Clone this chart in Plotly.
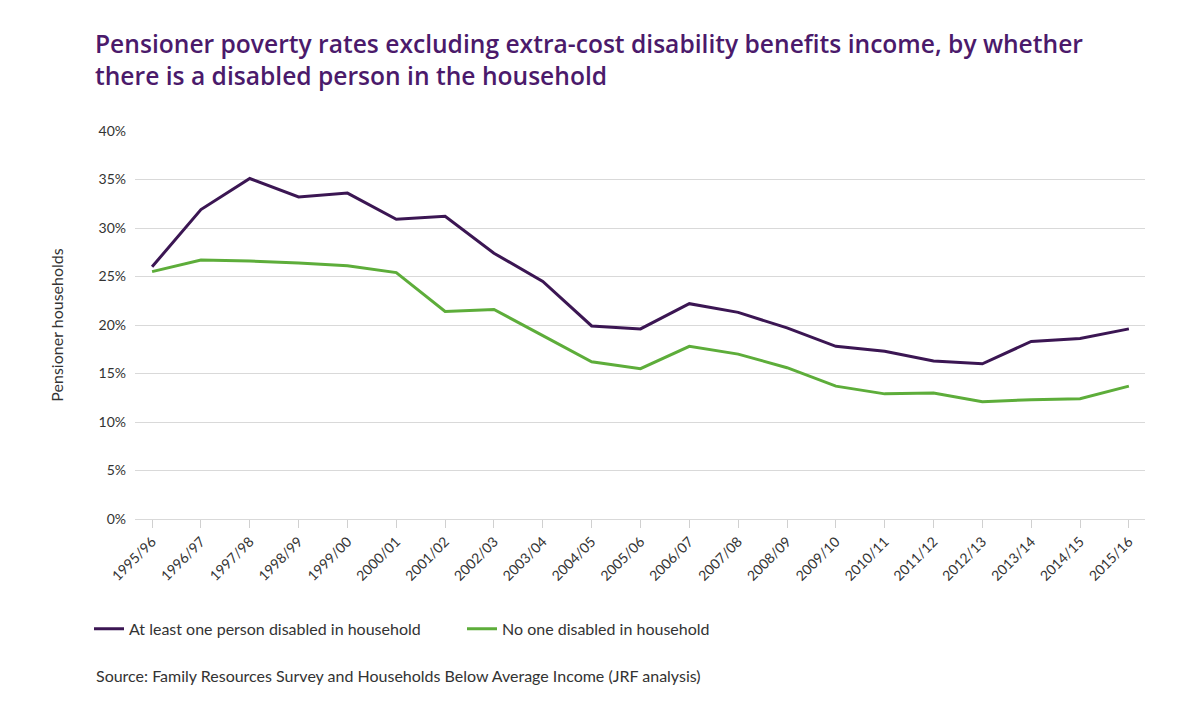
import plotly.graph_objects as go

years = ["1995/96", "1996/97", "1997/98", "1998/99", "1999/00", "2000/01",
         "2001/02", "2002/03", "2003/04", "2004/05", "2005/06", "2006/07",
         "2007/08", "2008/09", "2009/10", "2010/11", "2011/12", "2012/13",
         "2013/14", "2014/15", "2015/16"]

disabled = [26.0, 31.9, 35.1, 33.2, 33.6, 30.9, 31.2, 27.4, 24.5, 19.9, 19.6,
            22.2, 21.3, 19.7, 17.8, 17.3, 16.3, 16.0, 18.3, 18.6, 19.6]

no_disabled = [25.5, 26.7, 26.6, 26.4, 26.1, 25.4, 21.4, 21.6, 18.9, 16.2, 15.5,
               17.8, 17.0, 15.6, 13.7, 12.9, 13.0, 12.1, 12.3, 12.4, 13.7]

PURPLE = "#3b1653"
GREEN = "#5dad3a"
TEXT = "#333333"
FONT = "Lato"

# page has an 8px body margin, so the figure is sized to fit inside the window
W, H = 1184, 702

fig = go.Figure()
fig.add_trace(go.Scatter(
    x=years, y=disabled, mode="lines",
    name="At least one person disabled in household",
    line=dict(color=PURPLE, width=3),
))
fig.add_trace(go.Scatter(
    x=years, y=no_disabled, mode="lines",
    name="No one disabled in household",
    line=dict(color=GREEN, width=3),
))

fig.update_layout(
    width=W, height=H,
    margin=dict(l=127, r=47, t=123, b=191),
    paper_bgcolor="white",
    plot_bgcolor="white",
    font=dict(family=FONT, size=14, color=TEXT),
    title=dict(
        text="Pensioner poverty rates excluding extra-cost disability benefits income, by whether<br>there is a disabled person in the household",
        font=dict(family="Open Sans", size=24.6, color="#4b1a6b", weight=600),
        x=87 / W, xanchor="left", xref="container",
        y=1 - 45 / H, yanchor="middle", yref="container",
    ),
    showlegend=True,
    legend=dict(
        orientation="h",
        x=-46 / 1010, xanchor="left",
        y=-0.283, yanchor="middle",
        font=dict(family=FONT, size=16, color=TEXT),
        entrywidth=328,
        bgcolor="rgba(0,0,0,0)",
    ),
    annotations=[dict(
        text="Source: Family Resources Survey and Households Below Average Income (JRF analysis)",
        xref="paper", yref="paper",
        x=-41 / 1010, xanchor="left",
        y=-0.403, yanchor="middle",
        showarrow=False,
        font=dict(family=FONT, size=16, color=TEXT),
    )],
)

fig.update_xaxes(
    type="category",
    range=[-0.35, 20.33],
    tickangle=-45,
    ticks="outside", ticklen=8, tickcolor="#d0d0d0",
    showgrid=False, showline=True, linecolor="#d9d9d9", linewidth=1,
    tickfont=dict(family=FONT, size=14, color=TEXT),
)
fig.update_yaxes(
    range=[0, 40],
    dtick=5,
    ticksuffix="%",
    ticklabelstandoff=8,
    showgrid=True, gridcolor="#d9d9d9", gridwidth=1,
    zeroline=False,
    title=dict(text="Pensioner households", font=dict(family=FONT, size=16, color=TEXT), standoff=30),
    tickfont=dict(family=FONT, size=14, color=TEXT),
)

fig.write_html("out.html")
